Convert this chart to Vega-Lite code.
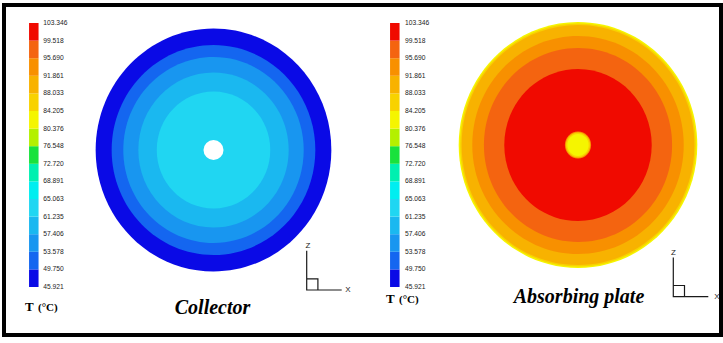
{
  "$schema": "https://vega.github.io/schema/vega-lite/v6.json",
  "width": 717,
  "height": 330,
  "autosize": {"type": "none"},
  "padding": {"left": 4, "top": 5, "right": 2, "bottom": 8},
  "background": "white",
  "config": {"view": {"stroke": "#000000", "strokeWidth": 4, "fill": "white"}},
  "datasets": {
    "rings": [
      {"panel": "Collector", "T": 47.8, "d": 243},
      {"panel": "Collector", "T": 51.7, "d": 210},
      {"panel": "Collector", "T": 55.5, "d": 186},
      {"panel": "Collector", "T": 59.3, "d": 155},
      {"panel": "Collector", "T": 63.1, "d": 117},
      {"panel": "Absorbing plate", "T": 82.3, "d": 246},
      {"panel": "Absorbing plate", "T": 86.1, "d": 243},
      {"panel": "Absorbing plate", "T": 90.0, "d": 240},
      {"panel": "Absorbing plate", "T": 93.8, "d": 218},
      {"panel": "Absorbing plate", "T": 97.6, "d": 194},
      {"panel": "Absorbing plate", "T": 101.4, "d": 152},
      {"panel": "Absorbing plate", "T": 93.8, "d": 27},
      {"panel": "Absorbing plate", "T": 86.1, "d": 25},
      {"panel": "Absorbing plate", "T": 82.3, "d": 22}
    ],
    "holes": [
      {"panel": "Collector", "d": 20}
    ],
    "bands": [
      {"panel": "Collector", "T": 45.921, "T2": 49.750},
      {"panel": "Collector", "T": 49.750, "T2": 53.578},
      {"panel": "Collector", "T": 53.578, "T2": 57.406},
      {"panel": "Collector", "T": 57.406, "T2": 61.235},
      {"panel": "Collector", "T": 61.235, "T2": 65.063},
      {"panel": "Collector", "T": 65.063, "T2": 68.891},
      {"panel": "Collector", "T": 68.891, "T2": 72.720},
      {"panel": "Collector", "T": 72.720, "T2": 76.548},
      {"panel": "Collector", "T": 76.548, "T2": 80.376},
      {"panel": "Collector", "T": 80.376, "T2": 84.205},
      {"panel": "Collector", "T": 84.205, "T2": 88.033},
      {"panel": "Collector", "T": 88.033, "T2": 91.861},
      {"panel": "Collector", "T": 91.861, "T2": 95.690},
      {"panel": "Collector", "T": 95.690, "T2": 99.518},
      {"panel": "Collector", "T": 99.518, "T2": 103.346},
      {"panel": "Absorbing plate", "T": 45.921, "T2": 49.750},
      {"panel": "Absorbing plate", "T": 49.750, "T2": 53.578},
      {"panel": "Absorbing plate", "T": 53.578, "T2": 57.406},
      {"panel": "Absorbing plate", "T": 57.406, "T2": 61.235},
      {"panel": "Absorbing plate", "T": 61.235, "T2": 65.063},
      {"panel": "Absorbing plate", "T": 65.063, "T2": 68.891},
      {"panel": "Absorbing plate", "T": 68.891, "T2": 72.720},
      {"panel": "Absorbing plate", "T": 72.720, "T2": 76.548},
      {"panel": "Absorbing plate", "T": 76.548, "T2": 80.376},
      {"panel": "Absorbing plate", "T": 80.376, "T2": 84.205},
      {"panel": "Absorbing plate", "T": 84.205, "T2": 88.033},
      {"panel": "Absorbing plate", "T": 88.033, "T2": 91.861},
      {"panel": "Absorbing plate", "T": 91.861, "T2": 95.690},
      {"panel": "Absorbing plate", "T": 95.690, "T2": 99.518},
      {"panel": "Absorbing plate", "T": 99.518, "T2": 103.346}
    ],
    "ticks": [
      {"panel": "Collector", "T": 45.921},
      {"panel": "Collector", "T": 49.750},
      {"panel": "Collector", "T": 53.578},
      {"panel": "Collector", "T": 57.406},
      {"panel": "Collector", "T": 61.235},
      {"panel": "Collector", "T": 65.063},
      {"panel": "Collector", "T": 68.891},
      {"panel": "Collector", "T": 72.720},
      {"panel": "Collector", "T": 76.548},
      {"panel": "Collector", "T": 80.376},
      {"panel": "Collector", "T": 84.205},
      {"panel": "Collector", "T": 88.033},
      {"panel": "Collector", "T": 91.861},
      {"panel": "Collector", "T": 95.690},
      {"panel": "Collector", "T": 99.518},
      {"panel": "Collector", "T": 103.346},
      {"panel": "Absorbing plate", "T": 45.921},
      {"panel": "Absorbing plate", "T": 49.750},
      {"panel": "Absorbing plate", "T": 53.578},
      {"panel": "Absorbing plate", "T": 57.406},
      {"panel": "Absorbing plate", "T": 61.235},
      {"panel": "Absorbing plate", "T": 65.063},
      {"panel": "Absorbing plate", "T": 68.891},
      {"panel": "Absorbing plate", "T": 72.720},
      {"panel": "Absorbing plate", "T": 76.548},
      {"panel": "Absorbing plate", "T": 80.376},
      {"panel": "Absorbing plate", "T": 84.205},
      {"panel": "Absorbing plate", "T": 88.033},
      {"panel": "Absorbing plate", "T": 91.861},
      {"panel": "Absorbing plate", "T": 95.690},
      {"panel": "Absorbing plate", "T": 99.518},
      {"panel": "Absorbing plate", "T": 103.346}
    ],
    "panels": [
      {"panel": "Collector", "title": "Collector", "qty": "T", "unit": "(°C)", "zl": "Z", "xl": "X"},
      {"panel": "Absorbing plate", "title": "Absorbing plate", "qty": "T", "unit": "(°C)", "zl": "Z", "xl": "X"}
    ]
  },
  "resolve": {"scale": {"x": "independent", "y": "independent"}},
  "layer": [
    {
      "data": {"name": "rings"},
      "mark": {"type": "point", "shape": "M-0.97,0A0.97,1,0,1,1,0.97,0A0.97,1,0,1,1,-0.97,0Z", "filled": true, "opacity": 1, "strokeWidth": 0},
      "encoding": {
        "x": {"field": "panel", "type": "nominal", "axis": null, "scale": {"type": "point", "domain": ["Collector", "Absorbing plate"], "range": [209.5, 574], "padding": 0}},
        "y": {"field": "panel", "type": "nominal", "axis": null, "scale": {"type": "point", "domain": ["Collector", "Absorbing plate"], "range": [145, 140], "padding": 0}},
        "size": {"field": "d", "type": "quantitative", "legend": null, "scale": {"type": "pow", "exponent": 2, "domain": [0, 300], "range": [0, 90000]}},
        "color": {"field": "T", "type": "quantitative", "legend": null, "scale": {"type": "threshold", "domain": [49.750, 53.578, 57.406, 61.235, 65.063, 68.891, 72.720, 76.548, 80.376, 84.205, 88.033, 91.861, 95.690, 99.518], "range": ["#0a0ae6", "#1466f0", "#1896f0", "#1ab8f0", "#20d6f2", "#00eef0", "#00f0b0", "#19e23c", "#b4f000", "#f5f500", "#f8d200", "#f8b200", "#f89000", "#f46410", "#f00a00"]}},
        "order": {"field": "d", "sort": "descending"}
      }
    },
    {
      "data": {"name": "holes"},
      "mark": {"type": "point", "shape": "circle", "filled": true, "opacity": 1, "color": "white", "strokeWidth": 0},
      "encoding": {
        "x": {"field": "panel", "type": "nominal", "axis": null, "scale": {"type": "point", "domain": ["Collector", "Absorbing plate"], "range": [209.5, 574], "padding": 0}},
        "y": {"field": "panel", "type": "nominal", "axis": null, "scale": {"type": "point", "domain": ["Collector", "Absorbing plate"], "range": [145, 140], "padding": 0}},
        "size": {"field": "d", "type": "quantitative", "legend": null, "scale": {"type": "pow", "exponent": 2, "domain": [0, 300], "range": [0, 90000]}}
      }
    },
    {
      "data": {"name": "bands"},
      "mark": {"type": "rule", "strokeWidth": 9.5, "strokeCap": "butt"},
      "encoding": {
        "x": {"field": "panel", "type": "nominal", "axis": null, "scale": {"type": "point", "domain": ["Collector", "Absorbing plate"], "range": [29.8, 390.8], "padding": 0}},
        "y": {"field": "T", "type": "quantitative", "axis": null, "scale": {"domain": [45.921, 103.346], "range": [282, 18], "zero": false, "nice": false}},
        "y2": {"field": "T2"},
        "color": {"field": "T", "type": "quantitative", "legend": null, "scale": {"type": "threshold", "domain": [49.750, 53.578, 57.406, 61.235, 65.063, 68.891, 72.720, 76.548, 80.376, 84.205, 88.033, 91.861, 95.690, 99.518], "range": ["#0a0ae6", "#1466f0", "#1896f0", "#1ab8f0", "#20d6f2", "#00eef0", "#00f0b0", "#19e23c", "#b4f000", "#f5f500", "#f8d200", "#f8b200", "#f89000", "#f46410", "#f00a00"]}}
      }
    },
    {
      "data": {"name": "ticks"},
      "mark": {"type": "text", "align": "left", "baseline": "middle", "font": "Liberation Sans", "fontSize": 6.7, "color": "#222222"},
      "encoding": {
        "x": {"field": "panel", "type": "nominal", "axis": null, "scale": {"type": "point", "domain": ["Collector", "Absorbing plate"], "range": [39.3, 401], "padding": 0}},
        "y": {"field": "T", "type": "quantitative", "axis": null, "scale": {"domain": [45.921, 103.346], "range": [282, 18], "zero": false, "nice": false}},
        "text": {"field": "T", "type": "quantitative", "format": ".3f"}
      }
    },
    {
      "data": {"name": "panels"},
      "mark": {"type": "text", "align": "center", "baseline": "alphabetic", "font": "'Liberation Serif', 'Times New Roman', serif", "fontSize": 20, "fontStyle": "italic", "fontWeight": "bold", "color": "#000000"},
      "encoding": {
        "x": {"field": "panel", "type": "nominal", "axis": null, "scale": {"type": "point", "domain": ["Collector", "Absorbing plate"], "range": [208.5, 575], "padding": 0}},
        "y": {"field": "panel", "type": "nominal", "axis": null, "scale": {"type": "point", "domain": ["Collector", "Absorbing plate"], "range": [309, 298], "padding": 0}},
        "text": {"field": "title", "type": "nominal"}
      }
    },
    {
      "data": {"name": "panels"},
      "mark": {"type": "text", "align": "left", "baseline": "alphabetic", "font": "'Liberation Serif', 'Times New Roman', serif", "fontSize": 13, "fontWeight": "bold", "color": "#000000"},
      "encoding": {
        "x": {"field": "panel", "type": "nominal", "axis": null, "scale": {"type": "point", "domain": ["Collector", "Absorbing plate"], "range": [21, 382], "padding": 0}},
        "y": {"field": "panel", "type": "nominal", "axis": null, "scale": {"type": "point", "domain": ["Collector", "Absorbing plate"], "range": [306, 298], "padding": 0}},
        "text": {"field": "qty", "type": "nominal"}
      }
    },
    {
      "data": {"name": "panels"},
      "mark": {"type": "text", "align": "left", "baseline": "alphabetic", "font": "'Liberation Serif', 'Times New Roman', serif", "fontSize": 11, "fontWeight": "bold", "color": "#000000"},
      "encoding": {
        "x": {"field": "panel", "type": "nominal", "axis": null, "scale": {"type": "point", "domain": ["Collector", "Absorbing plate"], "range": [34, 395], "padding": 0}},
        "y": {"field": "panel", "type": "nominal", "axis": null, "scale": {"type": "point", "domain": ["Collector", "Absorbing plate"], "range": [306, 298], "padding": 0}},
        "text": {"field": "unit", "type": "nominal"}
      }
    },
    {
      "data": {"name": "panels"},
      "mark": {"type": "point", "shape": "M0,-1.12L0,0L1,0M0,-0.32L0.32,-0.32L0.32,0", "filled": false, "opacity": 1, "stroke": "#1a1a1a", "strokeWidth": 1.2, "size": 4900},
      "encoding": {
        "x": {"field": "panel", "type": "nominal", "axis": null, "scale": {"type": "point", "domain": ["Collector", "Absorbing plate"], "range": [302.7, 669.3], "padding": 0}},
        "y": {"field": "panel", "type": "nominal", "axis": null, "scale": {"type": "point", "domain": ["Collector", "Absorbing plate"], "range": [285, 291.7], "padding": 0}}
      }
    },
    {
      "data": {"name": "panels"},
      "mark": {"type": "text", "align": "center", "baseline": "middle", "font": "Liberation Sans", "fontSize": 8, "color": "#222222"},
      "encoding": {
        "x": {"field": "panel", "type": "nominal", "axis": null, "scale": {"type": "point", "domain": ["Collector", "Absorbing plate"], "range": [304, 669.5], "padding": 0}},
        "y": {"field": "panel", "type": "nominal", "axis": null, "scale": {"type": "point", "domain": ["Collector", "Absorbing plate"], "range": [241, 248], "padding": 0}},
        "text": {"field": "zl", "type": "nominal"}
      }
    },
    {
      "data": {"name": "panels"},
      "mark": {"type": "text", "align": "center", "baseline": "middle", "font": "Liberation Sans", "fontSize": 8, "color": "#222222"},
      "encoding": {
        "x": {"field": "panel", "type": "nominal", "axis": null, "scale": {"type": "point", "domain": ["Collector", "Absorbing plate"], "range": [344, 713], "padding": 0}},
        "y": {"field": "panel", "type": "nominal", "axis": null, "scale": {"type": "point", "domain": ["Collector", "Absorbing plate"], "range": [285, 292], "padding": 0}},
        "text": {"field": "xl", "type": "nominal"}
      }
    }
  ]
}
